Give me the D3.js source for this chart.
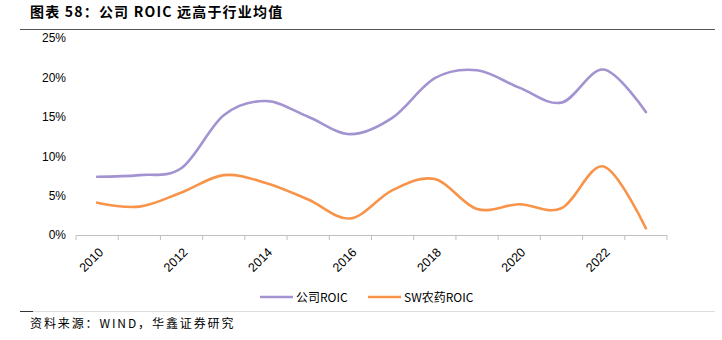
<!DOCTYPE html>
<html><head><meta charset="utf-8">
<script src="https://cdn.jsdelivr.net/npm/d3@7"></script>
<style>body{margin:0;background:#fff}svg{display:block}</style>
</head><body>
<svg id="c" width="722" height="340"></svg>
<script>
const years = [2010,2011,2012,2013,2014,2015,2016,2017,2018,2019,2020,2021,2022,2023];
const companyROIC = [7.4,7.6,8.5,15.2,17.0,15.0,12.8,14.9,19.9,20.9,18.7,16.8,21.0,15.6];
const industryROIC = [4.1,3.6,5.4,7.6,6.6,4.5,2.1,5.7,7.1,3.3,3.9,3.4,8.7,0.85];
const yTicks = [0,5,10,15,20,25];
const xLabels = [2010,2012,2014,2016,2018,2020,2022];
const seriesNames = ["公司ROIC","SW农药ROIC"];
const colors = ["#A393D1","#F8944A"];

(function(){
const svg = d3.select("#c");
const cjk = "'Noto Sans CJK SC', sans-serif";
const pL = 76, pR = 667, pT = 38, pB = 235;

// title
svg.append("text").attr("x",30).attr("y",17).attr("font-family",cjk).attr("font-weight","bold")
  .attr("font-size",14).attr("letter-spacing",1.2).attr("fill","#000").text("图表 58：公司 ROIC 远高于行业均值");
svg.append("line").attr("x1",20).attr("x2",715).attr("y1",29.5).attr("y2",29.5).attr("stroke","#555").attr("stroke-width",1.2);

const x = d3.scaleBand().domain(years).range([pL,pR]);
const y = d3.scaleLinear().domain([0,25]).range([pB,pT]);

// y axis labels
const ya = svg.append("g").attr("transform",`translate(${pL},0)`)
  .call(d3.axisLeft(y).tickValues(yTicks).tickFormat(d=>d+"%").tickSize(0).tickPadding(10));
ya.select(".domain").remove();
ya.selectAll("text").attr("font-family","'Liberation Sans', Arial, sans-serif").attr("font-size",12).attr("fill","#000");

// x axis
const xa = svg.append("g").attr("transform",`translate(0,${pB})`);
xa.append("line").attr("x1",pL).attr("x2",pR).attr("y1",0.5).attr("y2",0.5).attr("stroke","#bfbfbf");
const bounds = years.map(d=>x(d)).concat([pR]);
xa.selectAll(".tk").data(bounds).join("line").attr("x1",d=>d).attr("x2",d=>d).attr("y1",0.5).attr("y2",5).attr("stroke","#bfbfbf");
xa.selectAll(".lb").data(xLabels).join("text")
  .attr("transform",d=>`translate(${x(d)+x.bandwidth()/2+7},${18}) rotate(-45)`)
  .attr("text-anchor","end").attr("font-family","'Liberation Sans', Arial, sans-serif").attr("font-size",12.5).attr("fill","#000")
  .text(d=>d);

// lines
const line = d3.line().x((d,i)=>x(years[i])+x.bandwidth()/2).y(d=>y(d)).curve(d3.curveCatmullRom.alpha(0));
[companyROIC,industryROIC].forEach((s,k)=>{
  svg.append("path").attr("d",line(s)).attr("fill","none").attr("stroke",colors[k]).attr("stroke-width",2.6).attr("stroke-linecap","round");
});

// legend
const lg = [{x:260,tx:296},{x:368,tx:404}];
seriesNames.forEach((n,k)=>{
  svg.append("line").attr("x1",lg[k].x).attr("x2",lg[k].x+33).attr("y1",297).attr("y2",297).attr("stroke",colors[k]).attr("stroke-width",2.6);
  svg.append("text").attr("x",lg[k].tx).attr("y",302).attr("font-family",cjk).attr("font-size",12).attr("fill","#000").text(n);
});

// footer
svg.append("line").attr("x1",20).attr("x2",715).attr("y1",311.5).attr("y2",311.5).attr("stroke","#ddd").attr("stroke-width",1);
svg.append("line").attr("x1",20).attr("x2",33).attr("y1",311.5).attr("y2",311.5).attr("stroke","#333").attr("stroke-width",1);
svg.append("text").attr("x",30).attr("y",328).attr("font-family",cjk).attr("font-size",12).attr("letter-spacing",1.9).attr("fill","#000").text("资料来源：WIND，华鑫证券研究");
})();
</script>
</body></html>
